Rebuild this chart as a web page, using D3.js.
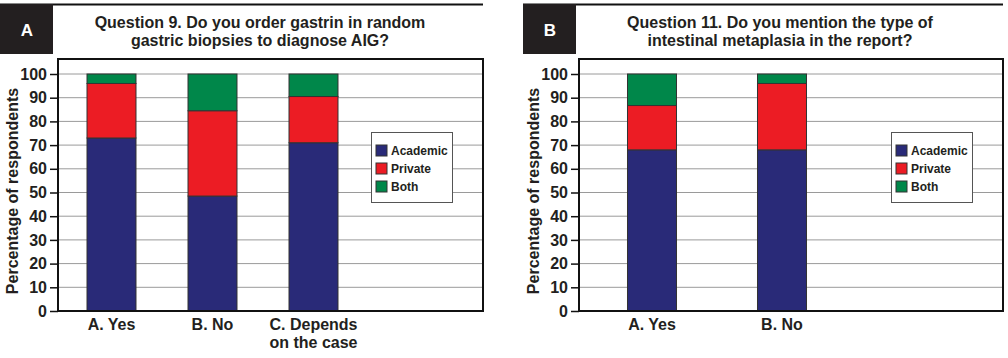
<!DOCTYPE html>
<html>
<head>
<meta charset="utf-8">
<script src="https://cdn.jsdelivr.net/npm/d3@7"></script>
<style>
  body { margin: 0; background: #fff; }
  svg { display: block; font-family: "Liberation Sans", Arial, sans-serif; }
</style>
</head>
<body>
<svg id="chart" width="1008" height="358"></svg>
<script>
// data
var seriesNames = ["Academic", "Private", "Both"];
var seriesColors = ["#292a78", "#ec1c24", "#00874a"];
var yTicks = [0, 10, 20, 30, 40, 50, 60, 70, 80, 90, 100];

var categoriesA = ["A. Yes", "B. No", "C. Depends\non the case"];
var academicA = [73, 48.5, 71];
var privateA = [23, 36, 19.5];
var bothA = [4, 15.5, 9.5];

var categoriesB = ["A. Yes", "B. No"];
var academicB = [68, 68];
var privateB = [18.7, 28];
var bothB = [13.3, 4];

var svg = d3.select("#chart");

function drawPanel(o) {
    var g = svg.append("g");
    var rows = o.cats.map(function(c, i) {
        return { cat: c, Academic: o.acad[i], Private: o.priv[i], Both: o.both[i] };
    });
    var stacked = d3.stack().keys(seriesNames)(rows);

    var y = d3.scaleLinear().domain([0, 100]).range([311, 74]);
    var x = d3.scaleBand().domain(o.cats)
        .range([o.left + o.r0, o.left + o.r1])
        .paddingInner(o.pad).paddingOuter(o.pad / 2);

    // header line + letter box
    g.append("line").attr("x1", o.boxX).attr("x2", o.right).attr("y1", 4.5).attr("y2", 4.5)
        .attr("stroke", "#111").attr("stroke-width", 2);
    g.append("rect").attr("x", o.boxX).attr("y", 4).attr("width", 53).attr("height", 50).attr("fill", "#231f20");
    g.append("text").attr("x", o.boxX + 27).attr("y", 36).attr("text-anchor", "middle")
        .attr("fill", "#fff").attr("font-weight", "bold").attr("font-size", 17).text(o.letter);

    g.append("text").attr("text-anchor", "middle").attr("font-weight", "bold")
        .attr("font-size", 16).attr("fill", "#231f20")
        .selectAll("tspan").data(o.title).enter().append("tspan")
        .attr("x", o.titleX).attr("y", function(d, i) { return 28 + i * 18; })
        .text(function(d) { return d; });

    // gridlines
    g.append("g").selectAll("line").data(yTicks.slice(1)).enter().append("line")
        .attr("x1", o.left).attr("x2", o.right)
        .attr("y1", function(d) { return y(d); }).attr("y2", function(d) { return y(d); })
        .attr("stroke", "#9a9a9a").attr("stroke-width", 1);

    // bars
    g.append("g").selectAll("g").data(stacked).enter().append("g")
        .attr("fill", function(d, i) { return seriesColors[i]; })
        .selectAll("rect").data(function(d) { return d; }).enter().append("rect")
        .attr("x", function(d) { return x(d.data.cat); })
        .attr("width", x.bandwidth())
        .attr("y", function(d) { return y(d[1]); })
        .attr("height", function(d) { return y(d[0]) - y(d[1]); })
        .attr("stroke", "#333").attr("stroke-width", 1);

    // frame
    g.append("rect").attr("x", o.left).attr("y", 59).attr("width", o.right - o.left).attr("height", 311 - 59)
        .attr("fill", "none").attr("stroke", "#111").attr("stroke-width", 2);

    // y axis
    var ya = g.append("g").attr("transform", "translate(" + o.left + ",0)")
        .call(d3.axisLeft(y).tickValues(yTicks).tickSize(8).tickPadding(3));
    ya.select(".domain").remove();
    ya.selectAll("line").attr("stroke", "#111").attr("stroke-width", 1.5);
    ya.selectAll("text").attr("font-size", 16).attr("font-weight", "bold").attr("fill", "#231f20")
        .attr("font-family", "Liberation Sans, Arial, sans-serif");

    g.append("text").attr("transform", "translate(" + (o.left - 40) + ",191) rotate(-90)")
        .attr("text-anchor", "middle").attr("font-weight", "bold").attr("font-size", 16)
        .attr("fill", "#231f20").text("Percentage of respondents");

    // x labels
    g.append("g").selectAll("text").data(o.cats).enter().append("text")
        .attr("text-anchor", "middle").attr("font-weight", "bold").attr("font-size", 16).attr("fill", "#231f20")
        .each(function(d) {
            var t = d3.select(this);
            d.split("\n").forEach(function(s, i) {
                t.append("tspan").attr("x", x(d) + x.bandwidth() / 2)
                    .attr("y", 330 + i * 18).text(s);
            });
        });

    // legend
    var lg = g.append("g").attr("transform", "translate(" + o.legX + ",132)");
    lg.append("rect").attr("x", 0.5).attr("y", 0.5).attr("width", 81).attr("height", 70)
        .attr("fill", "#fff").attr("stroke", "#555").attr("stroke-width", 1);
    var it = lg.selectAll("g.item").data(seriesNames).enter().append("g").attr("class", "item")
        .attr("transform", function(d, i) { return "translate(5," + (13 + i * 18) + ")"; });
    it.append("rect").attr("x", 0).attr("y", 0).attr("width", 11).attr("height", 11)
        .attr("fill", function(d, i) { return seriesColors[i]; }).attr("stroke", "#333");
    it.append("text").attr("x", 15).attr("y", 10).attr("font-size", 12).attr("font-weight", "bold")
        .attr("fill", "#231f20").text(function(d) { return d; });
}

drawPanel({
    letter: "A", boxX: 0, left: 58, right: 483, titleX: 260,
    title: ["Question 9. Do you order gastrin in random", "gastric biopsies to diagnose AIG?"],
    cats: categoriesA, acad: academicA, priv: privateA, both: bothA,
    r0: 3, r1: 306, pad: 0.515, legX: 371
});
drawPanel({
    letter: "B", boxX: 523, left: 579, right: 1003, titleX: 780,
    title: ["Question 11. Do you mention the type of", "intestinal metaplasia in the report?"],
    cats: categoriesB, acad: academicB, priv: privateB, both: bothB,
    r0: 8, r1: 268, pad: 0.623, legX: 891
});
</script>
</body>
</html>
